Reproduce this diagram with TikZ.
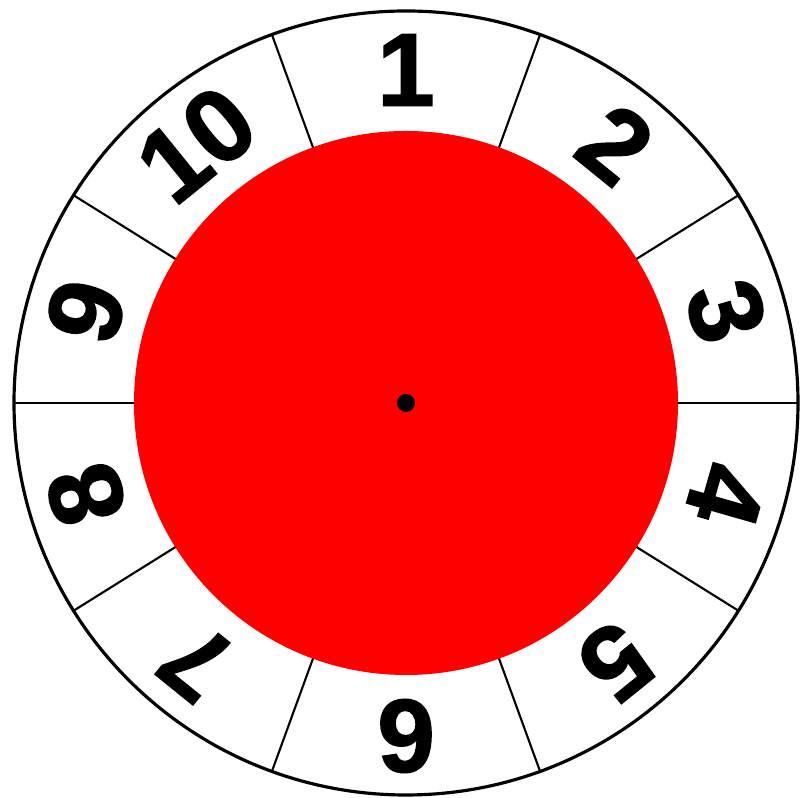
\documentclass[tikz,border=0pt]{standalone}
\usepackage{fontspec}
\setmainfont{Liberation Sans}
\newfontfamily\numfont[BoldFeatures={FakeBold=1.5}]{Liberation Sans}
\begin{document}
\begin{tikzpicture}[x=0.01cm,y=0.01cm,
  numlabel/.style={font=\numfont\fontsize{29.5}{29.5}\selectfont\bfseries, inner sep=0pt, anchor=center},
  divider/.style={draw=black, line width=0.6pt},
  rim/.style={draw=black, line width=0.9pt}]
\useasboundingbox (-406,-395) rectangle (397,403);
\fill[white] (-406,-395) rectangle (397,403);
% dividers
\foreach \a in {0,32,70,110,148,180,212,250,290,328}{
  \draw[divider] (\a:265) -- (\a:392);
}
% red disc
\fill[red] (0,0) circle (272);
% outer rim
\draw[rim] (0,0) circle (392);
% centre dot
\fill[black] (0,0) coordinate (c) circle (9);
% numbers
\foreach \n/\ang in {1/90,2/51,3/16,4/-16,5/-51,6/-90,7/-129,8/-164,9/164,10/129}{
  \node[numlabel, rotate={\ang-90}] (n\n) at (\ang:333) {\n};
}
\end{tikzpicture}
\end{document}
